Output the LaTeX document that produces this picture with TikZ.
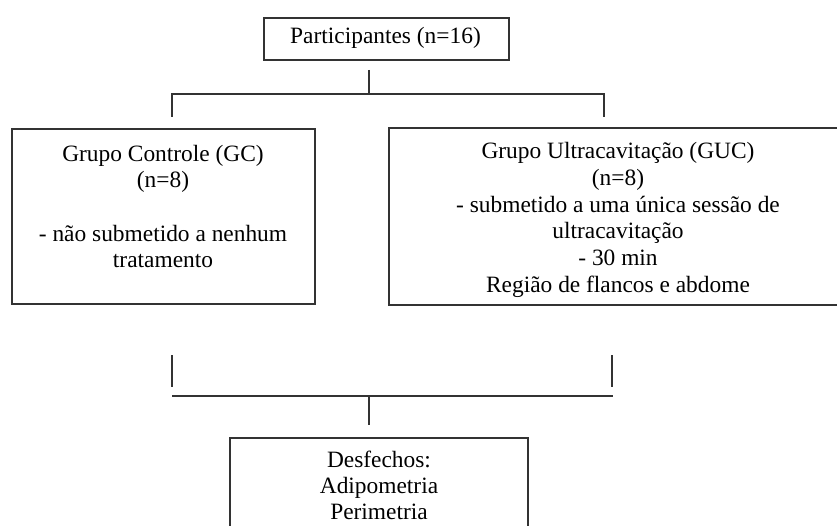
\documentclass[tikz,border=0pt]{standalone}
\usepackage{fontspec}
\setmainfont{Liberation Serif}
\begin{document}
\begin{tikzpicture}[x=1pt,y=-1pt,
  box/.style={draw=black!80,line width=1.6pt,inner sep=0pt,anchor=north west},
  txt/.style={align=center,inner sep=0pt,font=\fontsize{23.4}{26.7}\selectfont},
  link/.style={draw=black!80,line width=1.6pt}]
\clip (0,0) rectangle (837,526);
\fill[white] (0,0) rectangle (837,526);
% boxes
\node[box,minimum width=245pt,minimum height=42pt] (top) at (263,17) {};
\node[txt] (toptxt) at (385.5,38) {Participantes (n=16)};
\node[box,minimum width=303pt,minimum height=175pt] (gc) at (11,128) {};
\node[txt] (gctxt) at (163,206.5) {Grupo Controle (GC)\\(n=8)\\[26.7pt]- não submetido a nenhum\\tratamento};
\node[box,minimum width=520pt,minimum height=177pt] (guc) at (388,127) {};
\node[txt] (guctxt) at (618,220) {Grupo Ultracavitação (GUC)\\(n=8)\\- submetido a uma única sessão de\\ultracavitação\\- 30 min\\Região de flancos e abdome};
\node[box,minimum width=298pt,minimum height=140pt] (out) at (229,437) {};
\node[txt,font=\fontsize{23.4}{26}\selectfont] (outtxt) at (379,485) {Desfechos:\\Adipometria\\Perimetria};
% connectors
\coordinate (j1) at (369,94);
\coordinate (tl) at (172,117);
\coordinate (tr) at (604,117);
\coordinate (s1) at (369,70);
\draw[link] (s1) -- (j1);
\draw[link] (tl) |- (j1) -| (tr);
\coordinate (bl1) at (172,355);
\coordinate (bl2) at (172,387);
\coordinate (br1) at (612,355);
\coordinate (br2) at (612,387);
\draw[link] (bl1) -- (bl2);
\draw[link] (br1) -- (br2);
\coordinate (hl) at (172,396);
\coordinate (hr) at (613,396);
\coordinate (hm) at (369,396);
\coordinate (hd) at (369,425);
\draw[link] (hl) -- (hr);
\draw[link] (hm) -- (hd);
\end{tikzpicture}
\end{document}
